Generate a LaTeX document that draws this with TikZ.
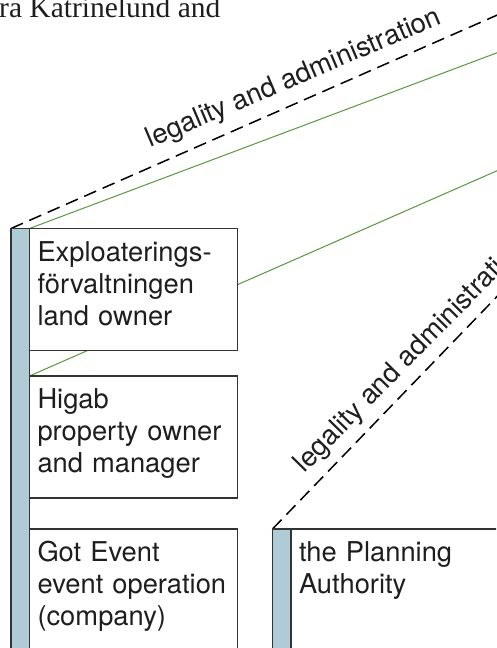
\documentclass[tikz,border=0pt]{standalone}
\usepackage{fontspec}
\setmainfont{Liberation Serif}
\setsansfont{TeX Gyre Heros}
\usepackage{xcolor}
\definecolor{barblue}{RGB}{175, 203, 214}
\definecolor{linegreen}{RGB}{92, 150, 62}
\definecolor{framegray}{RGB}{51, 51, 51}
\definecolor{textgray}{RGB}{30, 30, 30}
\usepackage{tikz}
\usetikzlibrary{
    positioning,
    calc,
    backgrounds
}
\tikzstyle{bar} = [
    draw=framegray,
    line width=1.1pt,
    fill=barblue,
    outer sep=0pt,
    inner sep=0pt,
    minimum width=18.5pt,
    minimum height=460pt
]
\tikzstyle{actor} = [
    draw=framegray,
    line width=1.1pt,
    fill=white,
    outer sep=0pt,
    anchor=north west,
    text width=192pt,
    inner xsep=8pt,
    inner ysep=0pt,
    text height=33pt,
    text depth=89pt,
    align=left,
    text=textgray,
    font=\sffamily\fontsize{27.3}{31.8}\selectfont
]
\tikzstyle{legal} = [
    line width=1.5pt,
    dash pattern=on 13pt off 7pt
]
\tikzstyle{link} = [
    linegreen,
    line width=1pt
]
\tikzstyle{legaltext} = [
    inner sep=0pt,
    anchor=base west,
    text=textgray,
    font=\sffamily\fontsize{27.5}{28}\selectfont
]

\begin{document}
\begin{tikzpicture}[x=1pt, y=1pt]

\useasboundingbox (0,0) rectangle (496,648);
\clip (0,0) rectangle (496,648);

% Textzeile oben (abgeschnitten)
\node[anchor=base west, inner sep=0pt, text=textgray, font=\fontsize{29.5}{32}\selectfont] (head) at (-1,630.7) {ra Katrinelund and};

% linke Spalte
\node[bar, anchor=north west] (leftbar) at (11,419.5) {};
\node[actor] (explo) at (leftbar.north east) {Exploaterings-\\förvaltningen\\land owner};
\node[actor, below=25.5pt of explo.south west, anchor=north west] (higab) {Higab\\property owner\\and manager};
\node[actor, below=31pt of higab.south west, anchor=north west, text depth=150pt] (gotevent) {Got Event\\event operation\\(company)};

% rechte Spalte
\node[bar, right=35pt of gotevent.north east, anchor=north west] (rightbar) {};
\node[actor, text width=230pt, text depth=150pt] (planning) at (rightbar.north east) {the Planning\\Authority};

% Endpunkte ausserhalb des Bildes
\coordinate (far1) at ($(leftbar.north west)+(23.7:620)$);
\coordinate (far2) at ($(explo.north west)+(20.6:620)$);
\coordinate (far3) at ($(higab.north west)+(23.7:620)$);
\coordinate (far4) at ($(rightbar.north west)+(46:400)$);

% Verbindungen hinter den Kaesten
\begin{scope}[on background layer]
    \draw[legal] (leftbar.north west) -- (far1);
    \draw[link] (explo.north west) -- (far2);
    \draw[link] (higab.north west) -- (far3);
    \draw[legal] (rightbar.north west) -- (far4);
\end{scope}

% Beschriftungen
\node[legaltext, rotate=23] (legal1) at ($(leftbar.north west)+(139.5,80.9)$) {legality and administration};
\node[legaltext, rotate=45.5] (legal2) at ($(rightbar.north west)+(32.2,55.5)$) {legality and administration};

\end{tikzpicture}
\end{document}
